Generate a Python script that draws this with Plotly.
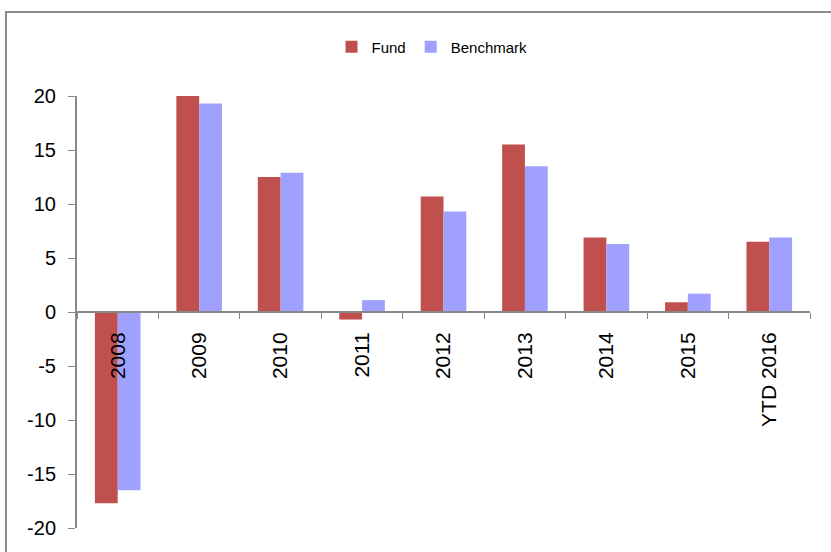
import plotly.graph_objects as go

categories = ["2008", "2009", "2010", "2011", "2012", "2013", "2014", "2015", "YTD 2016"]
fund = [-17.7, 20.0, 12.5, -0.7, 10.7, 15.5, 6.9, 0.9, 6.5]
benchmark = [-16.5, 19.3, 12.9, 1.1, 9.3, 13.5, 6.3, 1.7, 6.9]
y_ticks = [-20, -15, -10, -5, 0, 5, 10, 15, 20]
y_labels = [str(v) for v in y_ticks]

W, H = 831, 552
ml, mr, mt, mb = 77, 21, 96, 24
pw, ph = W - ml - mr, H - mt - mb

fig = go.Figure()
fig.add_trace(go.Bar(name="Fund", x=categories, y=fund, marker=dict(color="#C0504D", line=dict(width=0))))
fig.add_trace(go.Bar(name="Benchmark", x=categories, y=benchmark, marker=dict(color="#A0A0FF", line=dict(width=0))))

def px_x(v):
    return (v - ml) / pw

def px_y(v):
    return (H - mb - v) / ph

fig.update_layout(
    width=W, height=H,
    margin=dict(l=ml, r=mr, t=mt, b=mb),
    paper_bgcolor="white", plot_bgcolor="white",
    barmode="group", bargap=0.44, bargroupgap=0,
    font=dict(family="Liberation Sans, Arial, sans-serif", color="black"),
    showlegend=True,
    legend=dict(orientation="h", x=px_x(432), y=px_y(47), xanchor="center", yanchor="middle",
                font=dict(size=15), itemwidth=30, traceorder="normal", bgcolor="rgba(0,0,0,0)"),
    xaxis=dict(
        type="category", tickson="boundaries", ticks="outside", ticklen=6, tickcolor="#888888",
        showline=True, linecolor="#888888", linewidth=2, showgrid=False, zeroline=False,
        tickangle=-90, tickfont=dict(size=21), anchor="free", position=0.5,
        ticklabelstandoff=11,
    ),
    yaxis=dict(
        range=[-20, 20], tickvals=y_ticks, ticktext=y_labels, ticks="outside", ticklen=7, tickcolor="#888888",
        showline=True, linecolor="#888888", linewidth=2, showgrid=False, zeroline=False,
        tickfont=dict(size=20), ticklabelstandoff=8,
    ),
    shapes=[dict(type="rect", xref="paper", yref="paper",
                 x0=px_x(6), x1=px_x(840), y0=px_y(560), y1=px_y(12),
                 line=dict(color="#8C8C8C", width=2), layer="below")],
)

fig.write_html("out.html")
